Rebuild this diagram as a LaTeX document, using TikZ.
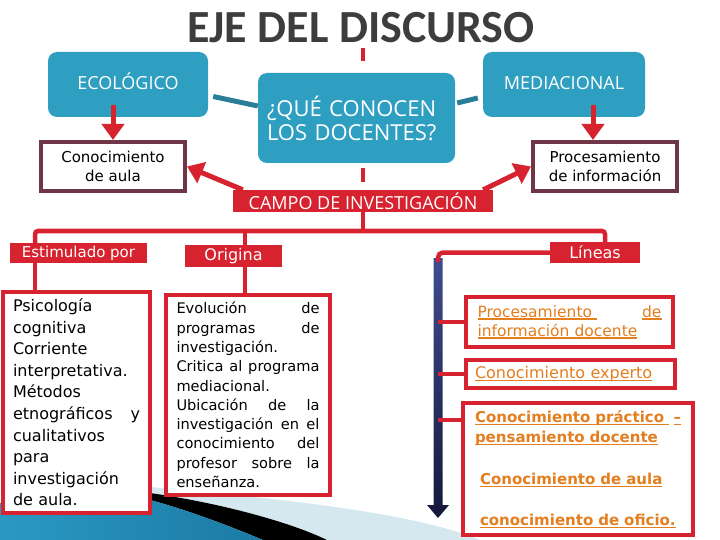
\documentclass[tikz,border=0pt]{standalone}
\usepackage{fontspec}
\setmainfont{DejaVu Sans}
\newfontfamily\osans{Open Sans}
\newfontfamily\carl{Carlito}
\usetikzlibrary{arrows.meta}
\definecolor{myred}{HTML}{D7232F}
\definecolor{boxmaroon}{HTML}{6E3646}
\definecolor{boxblue}{HTML}{2F9FC1}
\definecolor{darkteal}{HTML}{2A7E98}
\definecolor{orangetxt}{HTML}{E47E1E}
\definecolor{titlegray}{HTML}{3D3D3D}
\definecolor{navytop}{HTML}{3F4C8E}
\definecolor{navybot}{HTML}{14183A}
\definecolor{swblue}{HTML}{2A98C4}
\definecolor{swblueb}{HTML}{1B7BA3}
\definecolor{swlight}{HTML}{D5E8EF}
\newcommand{\myul}[1]{\leavevmode\setbox0=\hbox{#1}\rlap{\rule[-2.6pt]{\wd0}{1.2pt}}\box0}
\begin{document}
\begin{tikzpicture}[x=1pt,y=-1pt,
  bluebox/.style={fill=boxblue, rounded corners=9pt, text=white, font=\osans\fontsize{18}{22}\selectfont, inner sep=0pt},
  maroonbox/.style={draw=boxmaroon, line width=4pt, fill=white, font=\fontsize{15}{18.5}\selectfont, align=center, inner sep=0pt},
  redlabel/.style={fill=myred, text=white, inner sep=0pt},
  redbox/.style={draw=myred, line width=4pt, fill=white, inner ysep=0pt},
  redline/.style={draw=myred, line width=4.5pt},
  tealline/.style={draw=darkteal, line width=5pt},
  redarrow/.style={draw=myred, line width=5pt, -{Triangle[width=22pt,length=16pt]}},
  dashseg/.style={draw=myred, line width=4pt},
  orangetext/.style={text=orangetxt, align=left}
]
\useasboundingbox (0,0) rectangle (720,540);
% bottom swoosh
\fill[swlight] (150,487) .. controls (300,500) and (420,515) .. (480,540) -- (327,540) .. controls (290,522) and (220,503) .. (150,493) -- cycle;
\fill[black] (150,493) .. controls (220,503) and (290,522) .. (327,540) -- (263,540) .. controls (220,522) and (180,508) .. (150,500) -- cycle;
\shade[left color=swblue, right color=swblueb] (0,503) -- (150,500) .. controls (180,508) and (220,522) .. (263,540) -- (0,540) -- cycle;
% title
\node[font=\carl\bfseries\fontsize{46}{50}\selectfont, text=titlegray, anchor=base] (title) at (361,43) {EJE DEL DISCURSO};
% central dashed axis
\draw[dashseg] (363,48) -- (363,61);
\draw[dashseg] (363,168) -- (363,182);
% top boxes
\node[bluebox, minimum width=160pt, minimum height=65pt, text height=13pt, text depth=3pt] (eco) at (128,84.5) {ECOLÓGICO};
\node[bluebox, minimum width=162pt, minimum height=65pt, text height=13pt, text depth=3pt] (med) at (564,84.5) {MEDIACIONAL};
\node[bluebox, minimum width=197pt, minimum height=90pt, text width=179pt, align=left, inner xsep=9pt, font=\osans\fontsize{22}{24}\selectfont] (que) at (356.5,118) {¿QUÉ CONOCEN\\LOS DOCENTES?};
\node[maroonbox, minimum width=144pt, minimum height=49pt] (cono) at (113,166.5) {Conocimiento\\de aula};
\node[maroonbox, minimum width=144pt, minimum height=49pt] (proc) at (605,166.5) {Procesamiento\\de información};
\node[redlabel, minimum width=260pt, minimum height=22pt, font=\osans\fontsize{18}{20}\selectfont] (campo) at (363,201) {CAMPO DE INVESTIGACIÓN};
% connectors top
\draw[tealline] ([shift={(5,12)}]eco.east) -- ([shift={(0,-12)}]que.west);
\draw[tealline] ([shift={(2,-15)}]que.east) -- ([shift={(-5,13.5)}]med.west);
\draw[redarrow] ([yshift=12pt]eco.south -| cono.north) -- (cono.north);
\coordinate (ma) at (593,0);
\draw[redarrow] ([yshift=12pt]ma |- med.south) -- (ma |- proc.north);
\draw[redarrow] ([xshift=10pt]campo.north west) -- (cono.east);
\draw[redarrow] ([xshift=-10pt]campo.north east) -- (proc.west);
% second level labels
\node[redlabel, minimum width=137pt, minimum height=20pt, font=\fontsize{15}{17}\selectfont] (estim) at (78.5,253) {Estimulado por};
\node[redlabel, minimum width=97pt, minimum height=22pt, font=\fontsize{16}{18}\selectfont] (orig) at (233.5,256) {Origina};
\node[redlabel, minimum width=90pt, minimum height=21pt, font=\fontsize{16}{18}\selectfont] (lineas) at (595,252.5) {Líneas};
% bar
\coordinate (barL) at (35,231);
\coordinate (barR) at (605,231);
\coordinate (oc) at (245,0);
\draw[redline, rounded corners=3pt] (estim.north -| barL) -- (barL) -- (barR) -- (lineas.north -| barR);
\draw[redline] (campo.south) -- (campo.south |- barL);
\draw[redline] (oc |- barL) -- (oc |- orig.north);
% content boxes
\node[redbox, minimum width=147pt, minimum height=221pt, text width=127pt, inner xsep=10pt, align=left, font=\fontsize{16}{21.6}\selectfont] (psi) at (76.5,402.5) {Psicología\\cognitiva\\Corriente\\interpretativa.\\Métodos\\etnográficos\hfill y\\cualitativos\\para\\investigación\\de aula.};
\node[redbox, minimum width=164pt, minimum height=200pt, text width=143pt, inner xsep=10.5pt, align=left, font=\fontsize{14.6}{19.3}\selectfont] (evo) at (248,395) {Evolución\hfill de\\programas\hfill de\\investigación.\\Critica\hfill al\hfill programa\\mediacional.\\Ubicación\hfill de\hfill la\\investigación\hfill en\hfill el\\conocimiento\hfill del\\profesor\hfill sobre\hfill la\\enseñanza.};
\draw[redline] (estim.south -| barL) -- (psi.north -| barL);
\draw[redline] (oc |- orig.south) -- (oc |- evo.north);
% lineas arrow
\coordinate (arrtop) at (438,262);
\shade[top color=navytop, bottom color=navybot] (433.5,258) -- (442.5,258) -- (442.5,505) -- (449,505) -- (438,518) -- (427,505) -- (433.5,505) -- cycle;
\draw[redline, rounded corners=5pt] (lineas.west) -- (lineas.west -| arrtop) -- (arrtop);
\node[redbox, orangetext, minimum width=207pt, minimum height=50pt, text width=184pt, inner xsep=11.5pt, font=\fontsize{15.5}{19}\selectfont] (l1) at (569.5,322) {\myul{Procesamiento\ }\hfill\myul{de}\\\myul{información docente}};
\node[redbox, orangetext, minimum width=209pt, minimum height=28pt, text width=191pt, inner xsep=9pt, font=\fontsize{16}{19}\selectfont] (l2) at (570.5,374) {\myul{Conocimiento experto}};
\node[redbox, orangetext, minimum width=230pt, minimum height=132pt, text width=206pt, inner xsep=12pt, font=\bfseries\fontsize{15}{20}\selectfont] (l3) at (578,469) {\myul{Conocimiento práctico\ }\hfill\myul{–}\\\myul{pensamiento docente}\\[22pt]\hspace*{5pt}\myul{Conocimiento de aula}\\[21pt]\hspace*{5pt}\myul{conocimiento de oficio.}};
\coordinate (s3) at (438,420);
\draw[redline] (arrtop |- l1.west) -- (l1.west);
\draw[redline] (arrtop |- l2.west) -- (l2.west);
\draw[redline] (s3) -- (s3 -| l3.west);
\end{tikzpicture}
\end{document}
